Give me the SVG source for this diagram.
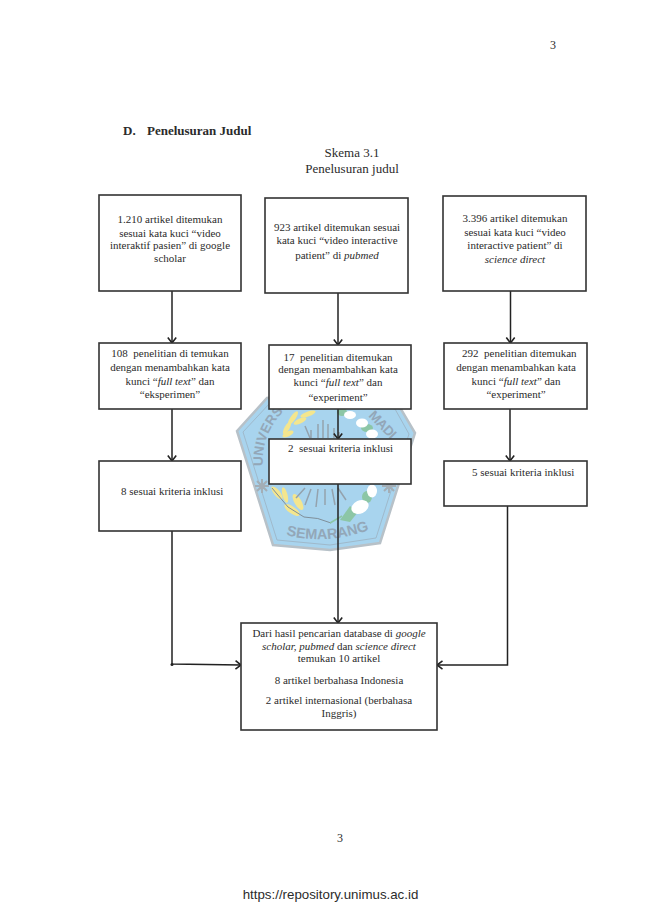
<svg xmlns="http://www.w3.org/2000/svg" width="650" height="919" viewBox="0 0 650 919">
<style>
text{font-family:"Liberation Serif","Times New Roman",serif;fill:#2b2b2b}
.t{font-size:11px;text-anchor:middle}
.s{font-size:11px}
.b{fill:#fff;stroke:#333;stroke-width:1.6}
.c{fill:none;stroke:#222;stroke-width:1.5;marker-end:url(#a)}
.w{font-family:"Liberation Sans",sans-serif;font-size:13.500px;font-weight:700;fill:#93a7b8}
.y{fill:#f4e68e}
.h{fill:#fff}
.g{fill:#8cc6a6}
.r{fill:none;stroke:#94a2ad;stroke-width:1.500}
</style>
<defs>
<marker id="a" markerUnits="userSpaceOnUse" markerWidth="12" markerHeight="12" refX="7" refY="5" orient="auto"><path d="M1.500 0.800L7 5L1.500 9.200" fill="none" stroke="#222" stroke-width="1.600"/></marker>
<path id="ul" d="M263 466A70 70 0 0 1 285 410"/>
<path id="sm" d="M286 535Q325 545 366 531"/>
</defs>
<rect width="650" height="919" fill="#fff"/>
<g id="watermark">
<path d="M237 431L267 398L330 391L398 404L415 433L380 543L330 550L273 545Z" fill="#a8d4ee" stroke="#b7c1c8" stroke-width="2.500"/>
<path d="M243 432L270 403L330 396L395 409L409 434L376 538L330 545L277 540Z" fill="none" stroke="#9fb9cb" stroke-width="1"/>
<g id="wheat">
<ellipse class="y" cx="293" cy="418" rx="8" ry="2.500" transform="rotate(-55 293 418)"/>
<ellipse class="y" cx="308" cy="414" rx="8" ry="2.500" transform="rotate(-20 308 414)"/>
<ellipse class="y" cx="300" cy="421" rx="7" ry="2.500" transform="rotate(-25 300 421)"/>
<ellipse class="y" cx="287" cy="428" rx="7" ry="2.500" transform="rotate(-60 287 428)"/>
<ellipse class="y" cx="288" cy="434" rx="6" ry="2.500" transform="rotate(-25 288 434)"/>
<ellipse class="y" cx="277" cy="493" rx="8" ry="3" transform="rotate(50 277 493)"/>
<ellipse class="y" cx="285" cy="495" rx="8" ry="2.500" transform="rotate(75 285 495)"/>
<ellipse class="y" cx="292" cy="510" rx="9" ry="3.500" transform="rotate(35 292 510)"/>
<ellipse class="y" cx="298" cy="502" rx="9" ry="3.500" transform="rotate(60 298 502)"/>
<path d="M272 488L288 507L304 517Q318 517 331 523" fill="none" stroke="#7f8f9a" stroke-width="1"/>
</g>
<g id="map">
<ellipse class="g" cx="342" cy="412" rx="5" ry="4"/>
<ellipse class="g" cx="367" cy="428" rx="6" ry="4"/>
<path class="g" d="M340 520L350 506L358 512L350 522Z"/>
<ellipse class="g" cx="367" cy="497" rx="5" ry="6"/>
<ellipse class="h" cx="350" cy="415" rx="6" ry="4"/>
<ellipse class="h" cx="362" cy="423" rx="6" ry="4.500"/>
<ellipse class="h" cx="372" cy="434" rx="6" ry="4.500"/>
<ellipse class="h" cx="360" cy="507" rx="9" ry="6.500" transform="rotate(-25 360 507)"/>
<ellipse class="h" cx="372" cy="491" rx="5" ry="6.500"/>
<path d="M330 523L342 516" stroke="#8cc6a6" stroke-width="1.500"/>
</g>
<path id="sun" class="r" d="M305 426L310 438M311 430V438M318 424V438M323 420V438M328 424V438M334 428V438M339 432V438M305 488L296 498M311 489L305 505M318 489L316 507M325 489V505M332 489L335 505M338 488L346 500"/>
<path id="gears" d="M262 479V493M255 486H269M257 481L267 491M267 481L257 491M389 479V493M382 486H396M384 481L394 491M394 481L384 491" stroke="#a3aeb6" stroke-width="2"/>
<text class="w"><textPath href="#ul">UNIVERS</textPath></text>
<text class="w" transform="translate(368 416) rotate(46)" textLength="33">MADI</text>
<text class="w" style="font-size:14.500px"><textPath href="#sm">SEMARANG</textPath></text>
</g>
<g id="connectors">
<path class="c" d="M172 291V343"/>
<path class="c" d="M338 293V345"/>
<path class="c" d="M510.500 291V343"/>
<path class="c" d="M172 409V461"/>
<path class="c" d="M338 409V439"/>
<path class="c" d="M510 409V461"/>
<path class="c" d="M172 531V664L241 665"/>
<path class="c" d="M338 484V623"/>
<path class="c" d="M507.500 506V665H437"/>
<circle cx="172" cy="664.500" r="1.500" fill="#222"/>
</g>
<g id="page">
<text x="553" y="49" font-size="12" text-anchor="middle">3</text>
<text x="123" y="135" font-size="13" font-weight="700">D.</text>
<text x="147" y="135" font-size="13" font-weight="700">Penelusuran Judul</text>
<text x="352" y="157" font-size="13" text-anchor="middle">Skema 3.1</text>
<text x="352" y="173" font-size="13" text-anchor="middle">Penelusuran judul</text>
<text x="340" y="842" font-size="12" text-anchor="middle">3</text>
<text x="330.500" y="899" font-size="13.300" text-anchor="middle" style="font-family:'Liberation Sans',sans-serif">https://repository.unimus.ac.id</text>
</g>
<g id="n1"><rect class="b" x="99" y="195" width="142" height="96"/>
<text class="t" x="170" y="223">1.210 artikel ditemukan</text>
<text class="t" x="170" y="237">sesuai kata kuci “video</text>
<text class="t" x="170" y="249">interaktif pasien” di google</text>
<text class="t" x="170" y="262">scholar</text></g>
<g id="n2"><rect class="b" x="265" y="198" width="143" height="95"/>
<text class="t" x="337" y="231">923 artikel ditemukan sesuai</text>
<text class="t" x="337" y="244">kata kuci “video interactive</text>
<text class="t" x="337" y="259">patient” di <tspan font-style="italic">pubmed</tspan></text></g>
<g id="n3"><rect class="b" x="443" y="196" width="143" height="95"/>
<text class="t" x="515" y="222">3.396 artikel ditemukan</text>
<text class="t" x="515" y="236">sesuai kata kuci  “video</text>
<text class="t" x="515" y="249">interactive patient” di</text>
<text class="t" x="515" y="263" font-style="italic">science direct</text></g>
<g id="n4"><rect class="b" x="99" y="343" width="142" height="66"/>
<text class="t" x="170" y="357" xml:space="preserve">108  penelitian di temukan</text>
<text class="t" x="170" y="371">dengan menambahkan kata</text>
<text class="t" x="170" y="385">kunci “<tspan font-style="italic">full text</tspan>” dan</text>
<text class="t" x="170" y="398">“eksperimen”</text></g>
<g id="n5"><rect class="b" x="269" y="345" width="142" height="64"/>
<text class="t" x="338" y="361" xml:space="preserve">17  penelitian ditemukan</text>
<text class="t" x="338" y="373">dengan menambahkan kata</text>
<text class="t" x="338" y="386">kunci “<tspan font-style="italic">full text</tspan>” dan</text>
<text class="t" x="338" y="401">“experiment”</text></g>
<g id="n6"><rect class="b" x="444" y="343" width="143" height="66"/>
<text class="s" x="462" y="357" xml:space="preserve">292  penelitian ditemukan</text>
<text class="t" x="516" y="371">dengan menambahkan kata</text>
<text class="t" x="516" y="385">kunci “<tspan font-style="italic">full text</tspan>” dan</text>
<text class="t" x="516" y="398">“experiment”</text></g>
<g id="n7"><rect class="b" x="99" y="461" width="142" height="70"/>
<text class="s" x="121" y="495">8 sesuai kriteria inklusi</text></g>
<g id="n8"><rect class="b" x="269" y="439" width="142" height="45"/>
<text class="s" x="288" y="452" xml:space="preserve">2  sesuai kriteria inklusi</text></g>
<g id="n9"><rect class="b" x="444" y="461" width="143" height="45"/>
<text class="s" x="472" y="476">5 sesuai kriteria inklusi</text></g>
<g id="n10"><rect class="b" x="241" y="623" width="196" height="107"/>
<text class="t" x="339" y="637">Dari hasil pencarian database di <tspan font-style="italic">google</tspan></text>
<text class="t" x="339" y="650"><tspan font-style="italic">scholar, pubmed</tspan> dan <tspan font-style="italic">science direct</tspan></text>
<text class="t" x="339" y="662">temukan 10 artikel</text>
<text class="t" x="339" y="684">8 artikel berbahasa Indonesia</text>
<text class="t" x="339" y="704">2 artikel internasional (berbahasa</text>
<text class="t" x="339" y="717">Inggris)</text></g>
</svg>
